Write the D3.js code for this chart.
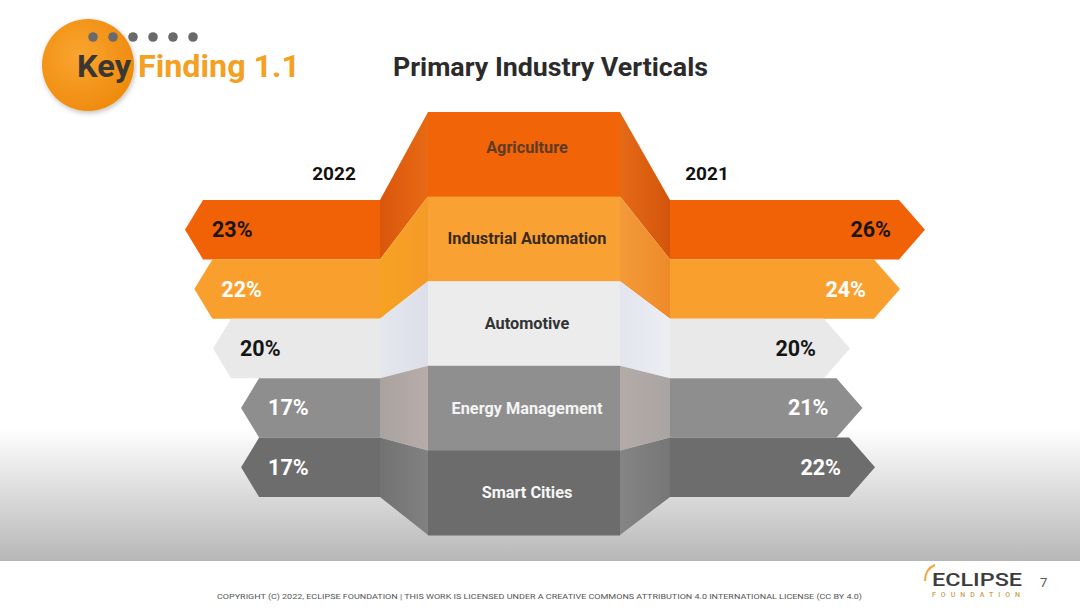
<!DOCTYPE html>
<html>
<head>
<meta charset="utf-8">
<script src="https://cdn.jsdelivr.net/npm/d3@7"></script>
<style>
  html, body { margin: 0; padding: 0; background: #fff; }
  svg { display: block; font-family: Roboto, "Noto Sans", Arial, sans-serif; }
</style>
</head>
<body>
<svg id="chart" width="1080" height="612"></svg>
<script>
// ---- data ----
const categories = ["Agriculture", "Industrial Automation", "Automotive", "Energy Management", "Smart Cities"];
const values2022 = [23, 22, 20, 17, 17];
const values2021 = [26, 24, 20, 21, 22];
const years = ["2022", "2021"];
const titleText = "Primary Industry Verticals";
const footerText = "COPYRIGHT (C) 2022, ECLIPSE FOUNDATION | THIS WORK IS LICENSED UNDER A CREATIVE COMMONS ATTRIBUTION 4.0 INTERNATIONAL LICENSE (CC BY 4.0)";

// ---- styles ----
const centerFill = ["#f16407", "#f9a233", "#ececec", "#8f8f8f", "#6c6c6c"];
const barFill    = ["#f16207", "#f99f2e", "#e9e9e9", "#8e8e8e", "#6d6d6d"];
const faceLeft   = [["#d9560c", "#e86a14"], ["#f7a222", "#f59a28"], ["#e4e7ee", "#dcdfe8"], ["#a9a3a0", "#b8aca8"], ["#727272", "#818181"]];
const faceRight  = [["#e56a16", "#d3550c"], ["#f39a38", "#ee8a2a"], ["#e2e5ee", "#eceef2"], ["#b4aba8", "#a9a4a2"], ["#858585", "#767676"]];
const centerLabelColor = ["#5e3b26", "#3a2a1e", "#333333", "#f4f4f4", "#f6f6f6"];
const pctColor = ["#1c1410", "#ffffff", "#151515", "#ffffff", "#ffffff"];

const svg = d3.select("#chart");
const defs = svg.append("defs");

// background gradient
const bg = defs.append("linearGradient").attr("id", "bg").attr("x1", 0).attr("y1", 0).attr("x2", 0).attr("y2", 1);
bg.append("stop").attr("offset", "0%").attr("stop-color", "#ffffff");
bg.append("stop").attr("offset", "100%").attr("stop-color", "#b7b7b7");
svg.append("rect").attr("x", 0).attr("y", 0).attr("width", 1080).attr("height", 612).attr("fill", "#fff");
svg.append("rect").attr("x", 0).attr("y", 428).attr("width", 1080).attr("height", 133).attr("fill", "url(#bg)");

// ---- scales ----
const centerY = d3.scaleBand().domain(categories).range([112, 535]);
const barY = d3.scaleBand().domain(categories).range([200, 497]);
const leftTip = d3.scaleLinear().domain([0, 23]).range([400, 185]);
const rightTip = d3.scaleLinear().domain([0, 26]).range([600, 925]);

const cx0 = 428, cx1 = 620;   // centre column
const lx = 380, rx = 670;     // where bars meet side faces

// face gradients
categories.forEach((c, i) => {
  const gl = defs.append("linearGradient").attr("id", "fl" + i).attr("x1", 0).attr("x2", 1).attr("y1", 0).attr("y2", 0);
  gl.append("stop").attr("offset", "0%").attr("stop-color", faceLeft[i][0]);
  gl.append("stop").attr("offset", "100%").attr("stop-color", faceLeft[i][1]);
  const gr = defs.append("linearGradient").attr("id", "fr" + i).attr("x1", 0).attr("x2", 1).attr("y1", 0).attr("y2", 0);
  gr.append("stop").attr("offset", "0%").attr("stop-color", faceRight[i][0]);
  gr.append("stop").attr("offset", "100%").attr("stop-color", faceRight[i][1]);
});

const line = d3.line();

// left bars
const dl = 18, dr = 26;
svg.append("g").selectAll("path").data(categories).join("path")
  .attr("d", (c, i) => {
    const y0 = barY(c), y1 = y0 + barY.bandwidth(), ym = (y0 + y1) / 2, t = leftTip(values2022[i]);
    return line([[lx, y0], [t + dl, y0], [t, ym], [t + dl, y1], [lx, y1]]) + "Z";
  })
  .attr("fill", (c, i) => barFill[i]);

// right bars
svg.append("g").selectAll("path").data(categories).join("path")
  .attr("d", (c, i) => {
    const y0 = barY(c), y1 = y0 + barY.bandwidth(), ym = (y0 + y1) / 2, t = rightTip(values2021[i]);
    return line([[rx, y0], [t - dr, y0], [t, ym], [t - dr, y1], [rx, y1]]) + "Z";
  })
  .attr("fill", (c, i) => barFill[i]);

// side faces
svg.append("g").selectAll("path").data(categories).join("path")
  .attr("d", c => {
    const b0 = barY(c), b1 = b0 + barY.bandwidth(), c0 = centerY(c), c1 = c0 + centerY.bandwidth();
    return line([[lx, b0], [cx0, c0], [cx0, c1], [lx, b1]]) + "Z";
  })
  .attr("fill", (c, i) => `url(#fl${i})`);
svg.append("g").selectAll("path").data(categories).join("path")
  .attr("d", c => {
    const b0 = barY(c), b1 = b0 + barY.bandwidth(), c0 = centerY(c), c1 = c0 + centerY.bandwidth();
    return line([[cx1, c0], [rx, b0], [rx, b1], [cx1, c1]]) + "Z";
  })
  .attr("fill", (c, i) => `url(#fr${i})`);

// centre column
svg.append("g").selectAll("rect").data(categories).join("rect")
  .attr("x", cx0).attr("width", cx1 - cx0)
  .attr("y", c => centerY(c)).attr("height", centerY.bandwidth() + 0.5)
  .attr("fill", (c, i) => centerFill[i]);

// centre labels
svg.append("g").selectAll("text").data(categories).join("text")
  .attr("x", 527)
  .attr("y", (c, i) => centerY(c) + centerY.bandwidth() / 2 - (i === 0 ? 7 : 0))
  .attr("text-anchor", "middle").attr("dominant-baseline", "central")
  .attr("font-size", 16.3).attr("font-weight", "bold")
  .attr("fill", (c, i) => centerLabelColor[i])
  .text(c => c);

// percentage labels
svg.append("g").selectAll("text").data(categories).join("text")
  .attr("x", (c, i) => leftTip(values2022[i]) + 27)
  .attr("y", c => barY(c) + barY.bandwidth() / 2)
  .attr("dominant-baseline", "central")
  .attr("font-size", 21.5).attr("font-weight", "bold")
  .attr("fill", (c, i) => pctColor[i])
  .text((c, i) => values2022[i] + "%");
svg.append("g").selectAll("text").data(categories).join("text")
  .attr("x", (c, i) => rightTip(values2021[i]) - 34)
  .attr("y", c => barY(c) + barY.bandwidth() / 2)
  .attr("text-anchor", "end").attr("dominant-baseline", "central")
  .attr("font-size", 21.5).attr("font-weight", "bold")
  .attr("fill", (c, i) => pctColor[i])
  .text((c, i) => values2021[i] + "%");

// year labels
svg.append("g").selectAll("text").data(years).join("text")
  .attr("x", (d, i) => i === 0 ? 334 : 707).attr("y", 173)
  .attr("text-anchor", "middle").attr("dominant-baseline", "central")
  .attr("font-size", 19).attr("font-weight", "bold").attr("fill", "#111")
  .text(d => d);

// title
svg.append("text").attr("x", 393).attr("y", 76)
  .attr("font-size", 26).attr("font-weight", "bold").attr("fill", "#2b2b2b")
  .attr("textLength", 315).attr("lengthAdjust", "spacingAndGlyphs")
  .text(titleText);

// Key Finding badge
const rg = defs.append("radialGradient").attr("id", "badge").attr("cx", "40%").attr("cy", "40%").attr("r", "65%");
rg.append("stop").attr("offset", "0%").attr("stop-color", "#f9a530");
rg.append("stop").attr("offset", "100%").attr("stop-color", "#ef8a0c");
const sh = defs.append("filter").attr("id", "shadow").attr("x", "-30%").attr("y", "-30%").attr("width", "160%").attr("height", "160%");
sh.append("feDropShadow").attr("dx", 1).attr("dy", 2).attr("stdDeviation", 2.5).attr("flood-color", "#000").attr("flood-opacity", 0.25);
svg.append("circle").attr("cx", 88).attr("cy", 65).attr("r", 46).attr("fill", "url(#badge)").attr("filter", "url(#shadow)");
svg.append("g").selectAll("circle").data(d3.range(6)).join("circle")
  .attr("cx", d => 93 + d * 20).attr("cy", 37).attr("r", 4.8).attr("fill", "#6a6a6a");
svg.append("text").attr("x", 77).attr("y", 77).attr("font-size", 32).attr("font-weight", "bold")
  .attr("fill", "#3a3633").attr("textLength", 54).attr("lengthAdjust", "spacingAndGlyphs").text("Key");
svg.append("text").attr("x", 138).attr("y", 77).attr("font-size", 32).attr("font-weight", "bold")
  .attr("fill", "#f3a023").attr("textLength", 162).attr("lengthAdjust", "spacingAndGlyphs").text("Finding 1.1");

// footer
svg.append("rect").attr("x", 0).attr("y", 561).attr("width", 1080).attr("height", 51).attr("fill", "#fff");
svg.append("text").attr("x", 217).attr("y", 599)
  .attr("font-size", 8).attr("fill", "#555")
  .attr("textLength", 645).attr("lengthAdjust", "spacingAndGlyphs")
  .text(footerText);

// Eclipse logo
svg.append("path").attr("d", "M935,565 Q925,569 925,581").attr("fill", "none").attr("stroke", "#f0a640").attr("stroke-width", 2);
svg.append("text").attr("x", 932).attr("y", 586).attr("font-size", 19).attr("font-weight", 500)
  .attr("fill", "#3c3c3c").attr("textLength", 90).attr("lengthAdjust", "spacingAndGlyphs").text("ECLIPSE");
svg.append("text").attr("x", 932).attr("y", 597).attr("font-size", 7).attr("font-weight", 500)
  .attr("fill", "#c9a14a").attr("textLength", 88).attr("lengthAdjust", "spacing").text("FOUNDATION");
svg.append("text").attr("x", 1040).attr("y", 587).attr("font-size", 13).attr("fill", "#555").text("7");
</script>
</body>
</html>
